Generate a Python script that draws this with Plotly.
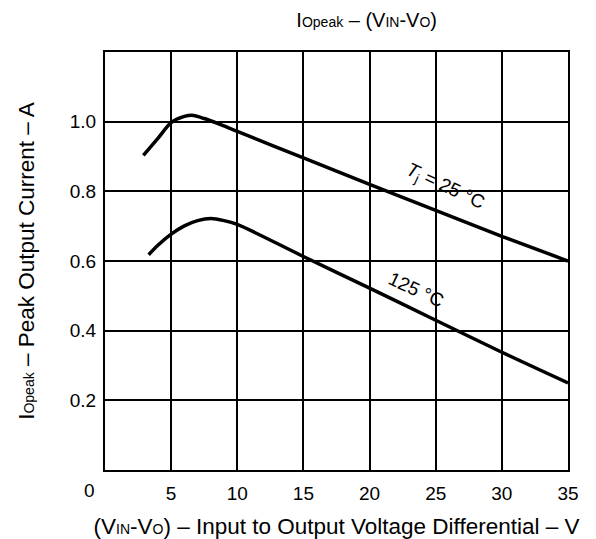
import plotly.graph_objects as go

# Data
vdiff_25 = [2.9, 4.0, 5.0, 6.0, 6.7, 7.5, 8.5, 10, 15, 20, 25, 30, 35]
ipeak_25 = [0.903, 0.952, 0.997, 1.015, 1.018, 1.009, 0.995, 0.972, 0.896, 0.820, 0.745, 0.671, 0.600]

vdiff_125 = [3.3, 4.0, 5.0, 6.0, 7.0, 8.0, 9.0, 10, 15, 20, 25, 30, 35]
ipeak_125 = [0.618, 0.645, 0.677, 0.701, 0.716, 0.722, 0.716, 0.705, 0.613, 0.522, 0.430, 0.338, 0.250]

x_ticks = [5, 10, 15, 20, 25, 30, 35]
y_ticks = [0.2, 0.4, 0.6, 0.8, 1.0]
y_labels = ["0.2", "0.4", "0.6", "0.8", "1.0"]

FONT = "Liberation Sans, Arial, sans-serif"
SM = "<span style='font-size:14px'>"
SMT = "<span style='font-size:14px'>"

fig = go.Figure()
fig.add_trace(go.Scatter(x=vdiff_25, y=ipeak_25, mode="lines",
                         line=dict(color="black", width=3.5, shape="spline", smoothing=0.8),
                         showlegend=False, hoverinfo="skip"))
fig.add_trace(go.Scatter(x=vdiff_125, y=ipeak_125, mode="lines",
                         line=dict(color="black", width=3.5, shape="spline", smoothing=0.8),
                         showlegend=False, hoverinfo="skip"))

fig.update_layout(
    width=588, height=531,
    margin=dict(l=97, r=28, t=44, b=69),
    paper_bgcolor="white", plot_bgcolor="white",
    font=dict(family=FONT, size=19, color="black"),
    title=dict(text="I" + SMT + "Opeak</span> – (V" + SMT + "IN</span>-V" + SMT + "O</span>)",
               x=0.61, xanchor="center", y=0.977, yanchor="middle",
               font=dict(family=FONT, size=20, color="black")),
    xaxis=dict(range=[0, 35], tickvals=x_ticks, ticktext=[str(v) for v in x_ticks],
               showgrid=True, gridcolor="black", gridwidth=1.5,
               showline=True, linecolor="black", linewidth=2, mirror=True,
               ticks="outside", ticklen=5, tickcolor="rgba(0,0,0,0)",
               zeroline=False, automargin=False,
               title=dict(text="(V" + SM + "IN</span>-V" + SM + "O</span>) – Input to Output Voltage Differential – V",
                          standoff=22, font=dict(family=FONT, size=22.5, color="black"))),
    yaxis=dict(range=[0, 1.2], tickvals=y_ticks, ticktext=y_labels,
               showgrid=True, gridcolor="black", gridwidth=1.5,
               showline=True, linecolor="black", linewidth=2, mirror=True,
               ticks="outside", ticklen=3, tickcolor="rgba(0,0,0,0)",
               zeroline=False, automargin=False,
               title=dict(text="I" + SM + "Opeak</span> – Peak Output Current – A",
                          standoff=29, font=dict(family=FONT, size=22.5, color="black"))),
)

fig.add_annotation(x=0, y=0, xref="x", yref="y", text="0", showarrow=False,
                   xshift=-16, yshift=-20, font=dict(size=19))
fig.add_annotation(x=25.7, y=0.812, xref="x", yref="y",
                   text="<i>T</i><sub>j</sub> = 25 °C", showarrow=False,
                   textangle=25, font=dict(size=19))
fig.add_annotation(x=23.5, y=0.518, xref="x", yref="y",
                   text="125 °C", showarrow=False,
                   textangle=25, font=dict(size=19))

fig.write_html("out.html")
